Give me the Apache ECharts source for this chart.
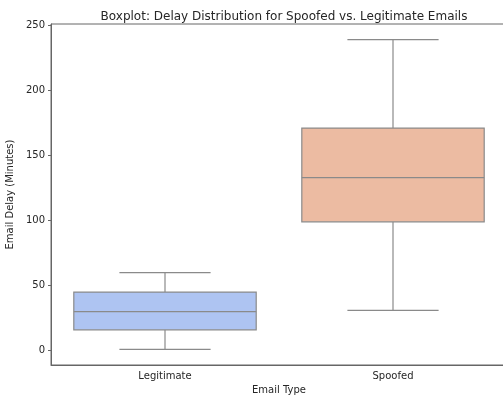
<!DOCTYPE html>
<html>
<head>
<meta charset="utf-8">
<script src="https://cdn.jsdelivr.net/npm/echarts@6/dist/echarts.min.js"></script>
<style>
  html, body { margin: 0; padding: 0; background: #fff; }
  #chart { width: 503px; height: 398px; }
</style>
</head>
<body>
<div id="chart"></div>
<script>
// Email delay box statistics (minutes)
const categories = ['Legitimate', 'Spoofed'];
const whiskerLow = [1, 31];
const q1 = [16, 99];
const median = [30, 133];
const q3 = [45, 171];
const whiskerHigh = [60, 239];
const boxColors = ['#aec4f2', '#ecbba2'];
const yTicks = [0, 50, 100, 150, 200, 250];

const rows = categories.map((c, i) => [i, whiskerLow[i], q1[i], median[i], q3[i], whiskerHigh[i]]);

const lineColor = '#8a8a8a';

function renderBox(params, api) {
  const idx = api.value(0);
  const band = api.size([1, 0])[0];
  const boxW = band * 0.8;
  const capW = boxW / 2;
  const pLow = api.coord([idx, api.value(1)]);
  const pQ1 = api.coord([idx, api.value(2)]);
  const pMed = api.coord([idx, api.value(3)]);
  const pQ3 = api.coord([idx, api.value(4)]);
  const pHigh = api.coord([idx, api.value(5)]);
  const cx = pQ1[0];
  const ls = { stroke: lineColor, lineWidth: 1.2 };
  return {
    type: 'group',
    children: [
      { type: 'line', shape: { x1: cx, y1: pLow[1], x2: cx, y2: pQ1[1] }, style: ls },
      { type: 'line', shape: { x1: cx, y1: pQ3[1], x2: cx, y2: pHigh[1] }, style: ls },
      { type: 'line', shape: { x1: cx - capW / 2, y1: pLow[1], x2: cx + capW / 2, y2: pLow[1] }, style: ls },
      { type: 'line', shape: { x1: cx - capW / 2, y1: pHigh[1], x2: cx + capW / 2, y2: pHigh[1] }, style: ls },
      { type: 'rect', shape: { x: cx - boxW / 2, y: pQ3[1], width: boxW, height: pQ1[1] - pQ3[1] },
        style: { fill: boxColors[idx], stroke: lineColor, lineWidth: 1.2 } },
      { type: 'line', shape: { x1: cx - boxW / 2, y1: pMed[1], x2: cx + boxW / 2, y2: pMed[1] }, style: ls }
    ]
  };
}

const chart = echarts.init(document.getElementById('chart'), null, { renderer: 'canvas' });
const font = 'DejaVu Sans';
chart.setOption({
  animation: false,
  backgroundColor: '#fff',
  title: {
    text: 'Boxplot: Delay Distribution for Spoofed vs. Legitimate Emails',
    left: 279, top: 6, textAlign: 'center',
    textStyle: { fontFamily: font, fontSize: 12, fontWeight: 'normal', color: '#262626' }
  },
  grid: {
    left: 51, top: 24, width: 456, bottom: 33,
    outerBoundsMode: 'none',
    containLabel: false,
    show: true, borderColor: '#666', borderWidth: 1, backgroundColor: 'transparent'
  },
  xAxis: {
    type: 'category',
    data: categories,
    name: 'Email Type',
    nameLocation: 'middle',
    nameGap: 20,
    nameTextStyle: { fontFamily: font, fontSize: 10, color: '#262626' },
    axisLine: { onZero: false, lineStyle: { color: '#666' } },
    axisTick: { alignWithLabel: true, length: 3, lineStyle: { color: '#666' } },
    axisLabel: { fontFamily: font, fontSize: 10, color: '#262626', margin: 6 },
    splitLine: { show: false }
  },
  yAxis: {
    type: 'value',
    min: -11, max: 251,
    name: 'Email Delay (Minutes)',
    nameLocation: 'middle',
    nameGap: 33,
    nameTextStyle: { fontFamily: font, fontSize: 10, color: '#262626' },
    axisLine: { show: true, lineStyle: { color: '#666' } },
    axisTick: { show: true, length: 3, customValues: yTicks, lineStyle: { color: '#666' } },
    axisLabel: { fontFamily: font, fontSize: 10, color: '#262626', margin: 6, customValues: yTicks },
    splitLine: { show: false }
  },
  series: [{
    type: 'custom',
    renderItem: renderBox,
    encode: { x: 0, y: [1, 2, 3, 4, 5] },
    data: rows
  }]
});
</script>
</body>
</html>
